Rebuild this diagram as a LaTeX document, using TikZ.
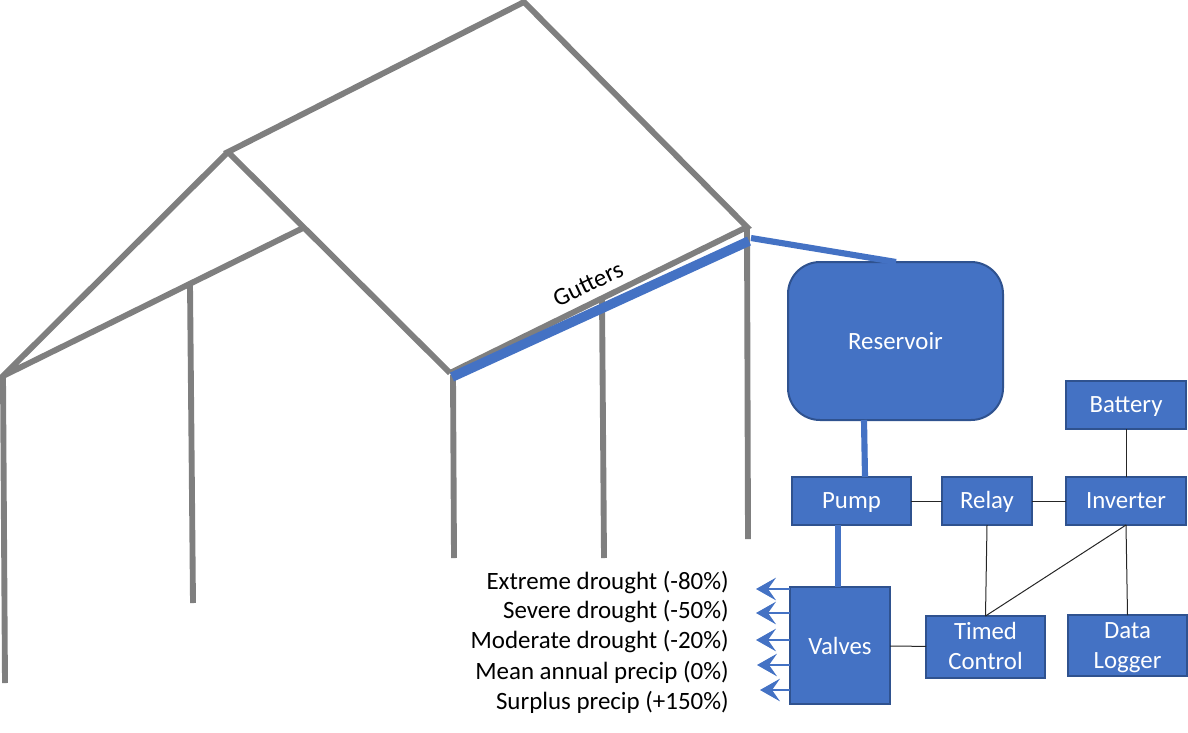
\documentclass[tikz,border=0pt]{standalone}
\usepackage{fontspec}
\setmainfont{Carlito}
\usetikzlibrary{arrows.meta}
\definecolor{bfill}{HTML}{4472C4}
\definecolor{bedge}{HTML}{2F528F}
\definecolor{frame}{HTML}{7F7F7F}
\tikzset{
  x=0.75pt,y=-0.75pt,
  box/.style={draw=bedge,fill=bfill,line width=1.5pt,text=white,font=\fontsize{18.6}{22.5}\selectfont,align=center,inner sep=0pt,outer sep=0pt,anchor=north west},
  oneline/.style={text height=15pt,text depth=4pt},
  lowline/.style={text height=17pt,text depth=4pt},
  beam/.style={draw=frame,line width=4.4pt},
  pipe/.style={draw=bfill,line width=4.6pt},
  wire/.style={draw=black!85,line width=0.75pt},
  spray/.style={draw=bfill,line width=0.8pt,-{Stealth[length=15pt,width=17pt,inset=6pt]}},
  lab/.style={anchor=east,inner sep=0pt,font=\fontsize{18.7}{22}\selectfont},
}
\begin{document}
\begin{tikzpicture}
\useasboundingbox (0,0) rectangle (1188,732);
% frame coordinates
\coordinate (apex) at (524,2);
\coordinate (ridge) at (228,152);
\coordinate (eaveR) at (747,227);
\coordinate (eaveL) at (450,373);
\coordinate (mid) at (303,228);
\coordinate (farL) at (3,376);
\draw[beam,line join=miter] (eaveL) -- (eaveR) -- (apex) -- (ridge) -- (eaveL);
\draw[beam] (ridge) -- (farL) -- (mid);
\draw[beam] (farL) -- (5,683);
\draw[beam] (190,284) -- (193,603);
\draw[beam] (453,375) -- (454,558);
\draw[beam] (602,297) -- (604,558);
\draw[beam] (eaveR) -- (748,539);
% gutter
\coordinate (gutL) at (452,377);
\coordinate (gutR) at (749,241);
\coordinate (gutO) at (751,238);
\draw[draw=bfill,line width=7.2pt] (gutL) -- (gutR);
\node[rotate=25.5,font=\fontsize{18.6}{22}\selectfont,inner sep=0pt] (gutters) at (588,284) {Gutters};
% boxes
\node[box,lowline,rounded corners=24pt,minimum width=161.25pt,minimum height=118.5pt] (res) at (788,262) {Reservoir};
\node[box,oneline,minimum width=89.25pt,minimum height=36pt] (pump) at (792,477) {Pump};
\node[box,oneline,minimum width=67.5pt,minimum height=36pt] (relay) at (942,477) {Relay};
\node[box,oneline,minimum width=90pt,minimum height=36pt] (inv) at (1066,477) {Inverter};
\node[box,oneline,minimum width=90pt,minimum height=36pt] (bat) at (1066,381) {Battery};
\node[box,lowline,minimum width=75pt,minimum height=87.75pt] (val) at (790,587) {Valves};
\node[box,minimum width=89.25pt,minimum height=46.5pt] (timed) at (926,616) {Timed\\Control\rule[-2pt]{0pt}{0pt}};
\node[box,minimum width=89.25pt,minimum height=45.75pt] (log) at (1068,615) {Data\\\smash{Logger}\rule[-0.6pt]{0pt}{0pt}};
% pipes
\coordinate (resIn) at (896,262);
\draw[pipe] (gutO) -- (resIn);
\draw[pipe] (864,420) -- (865,477);
\draw[pipe] (838,525) -- (838,587);
% wires
\draw[wire] (bat) -- (inv);
\draw[wire] (pump) -- (relay);
\draw[wire] (relay) -- (inv);
\draw[wire] (relay.south) -- (timed.north);
\draw[wire] (inv.south) -- (timed.north);
\draw[wire] (inv.south) -- (log.north);
\draw[wire] (val) -- (timed);
% outlets
\foreach \n/\y/\tip in {a/589/756,b/613/756,c/640/756,d/665/757,e/690/760}{
  \coordinate (out\n) at (\tip,\y);
  \draw[spray] (val.west |- out\n) -- (out\n);
}
% labels
\node[lab] (l1) at (729,583) {Extreme drought (-80\%)};
\node[lab] (l2) at (729,612) {Severe drought (-50\%)};
\node[lab] (l3) at (729,642) {Moderate drought (-20\%)};
\node[lab] (l4) at (729,672) {Mean annual precip (0\%)};
\node[lab] (l5) at (729,702) {Surplus precip (+150\%)};
\end{tikzpicture}
\end{document}
